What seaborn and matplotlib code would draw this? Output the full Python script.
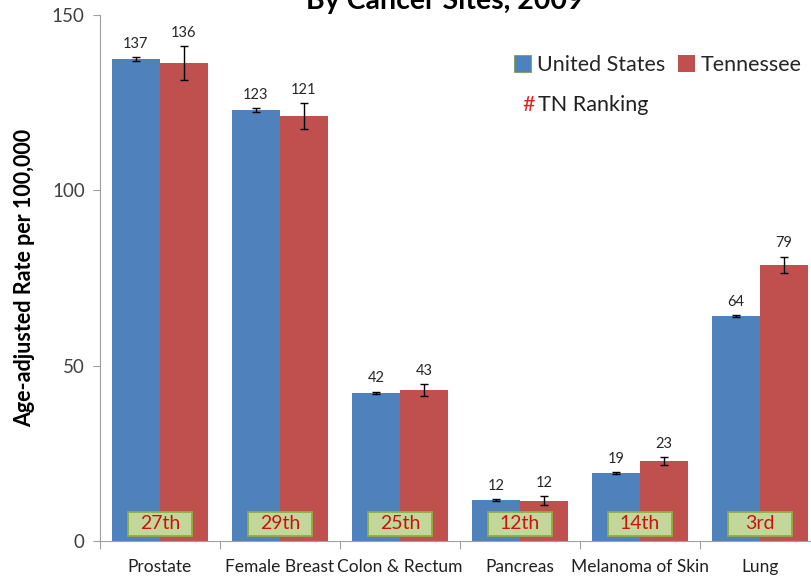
import matplotlib
matplotlib.use("Agg")
import matplotlib.pyplot as plt
import seaborn as sns
import pandas as pd
from matplotlib.patches import Patch, Rectangle

sites = ["Prostate", "Female Breast", "Colon & Rectum", "Pancreas", "Melanoma of Skin", "Lung"]
us_rates = [137.4, 122.9, 42.2, 11.7, 19.4, 64.2]
tn_rates = [136.3, 121.2, 43.1, 11.5, 22.8, 78.8]
us_err = [0.5, 0.5, 0.4, 0.2, 0.2, 0.3]
tn_err = [4.9, 3.7, 1.7, 1.2, 1.2, 2.3]
us_labels = ["137", "123", "42", "12", "19", "64"]
tn_labels = ["136", "121", "43", "12", "23", "79"]
rankings = ["27th", "29th", "25th", "12th", "14th", "3rd"]
series = ["United States", "Tennessee"]
colors = ["#4F81BD", "#C0504D"]

sns.set_theme(style="white")
plt.rcParams["font.family"] = ["Lato", "DejaVu Sans"]

df = pd.DataFrame({
    "Site": sites * 2,
    "Series": [series[0]] * len(sites) + [series[1]] * len(sites),
    "Rate": us_rates + tn_rates,
})

fig = plt.figure(figsize=(8.12, 5.77), dpi=100)
ax = fig.add_axes([100 / 812, 1 - 541 / 577, 720 / 812, (541 - 15) / 577])

sns.barplot(data=df, x="Site", y="Rate", hue="Series", order=sites,
            hue_order=series, palette=colors, width=0.8, gap=0,
            errorbar=None, saturation=1, ax=ax, legend=False,
            edgecolor="none", linewidth=0)

ax.set_xlim(-0.5, 5.5)
ax.set_ylim(0, 150)
ax.set_yticks([0, 50, 100, 150])
ax.tick_params(axis="y", labelsize=13.5, labelcolor="#404040", length=5,
               width=0.8, color="#A0A0A0", direction="out", left=True, pad=6)
ax.set_xticks([i for i in range(len(sites))])
ax.set_xticklabels(sites, fontsize=12.5, color="#202020")
ax.tick_params(axis="x", length=0, pad=13)
ax.set_xticks([i - 0.5 for i in range(len(sites) + 1)], minor=True)
ax.tick_params(axis="x", which="minor", length=6, width=0.8, color="#A0A0A0",
               direction="out", bottom=True)
for s in ["top", "right"]:
    ax.spines[s].set_visible(False)
for s in ["left", "bottom"]:
    ax.spines[s].set_color("#A0A0A0")
    ax.spines[s].set_linewidth(0.8)

ax.set_xlabel("")
ax.set_ylabel("Age-adjusted Rate per 100,000", fontsize=15.5, fontweight="bold",
              color="#000000", labelpad=12)

# error bars and value labels
us_patches = list(ax.patches[:len(sites)])
tn_patches = list(ax.patches[len(sites):2 * len(sites)])
for plist, vals, errs, labs in [(us_patches, us_rates, us_err, us_labels),
                                (tn_patches, tn_rates, tn_err, tn_labels)]:
    for p, v, e, lab in zip(plist, vals, errs, labs):
        cx = p.get_x() + p.get_width() / 2
        ax.errorbar(cx, v, yerr=e, fmt="none", ecolor="#000000", elinewidth=1,
                    capsize=3, capthick=1)
        ax.text(cx, v + e + 1.8, lab, ha="center", va="bottom", fontsize=10.5,
                color="#262626")

# ranking boxes
box_w, box_y0, box_h = 0.533, 1.4, 6.9
for i, r in enumerate(rankings):
    ax.add_patch(Rectangle((i - box_w / 2, box_y0), box_w, box_h,
                           facecolor="#C4D79B", edgecolor="#8DB040",
                           linewidth=1.3, zorder=5))
    ax.text(i, box_y0 + box_h / 2, r, ha="center", va="center", fontsize=14,
            color="#D01010", zorder=6)

# legend
handles = [Patch(facecolor=colors[0], edgecolor="#7FA050", linewidth=0.6),
           Patch(facecolor=colors[1], edgecolor="none")]
fig.legend(handles, series, loc="center left", bbox_to_anchor=(514 / 812, 1 - 65 / 577),
           ncol=2, frameon=False, fontsize=15.5, handlelength=0.8, handleheight=0.8,
           handletextpad=0.25, columnspacing=0.6, borderaxespad=0, borderpad=0)

fig.text(522 / 812, 1 - 105 / 577, "#", color="#E02020", fontsize=15.5, va="center", ha="left")
fig.text(538 / 812, 1 - 105 / 577, "TN Ranking", color="#202020", fontsize=15.5,
         va="center", ha="left")

fig.text(445 / 812, 1 - 9 / 577, "By Cancer Sites, 2009", ha="center", va="baseline",
         fontsize=20.5, fontweight="bold", color="#000000")

fig.savefig("out.png", dpi=100)
